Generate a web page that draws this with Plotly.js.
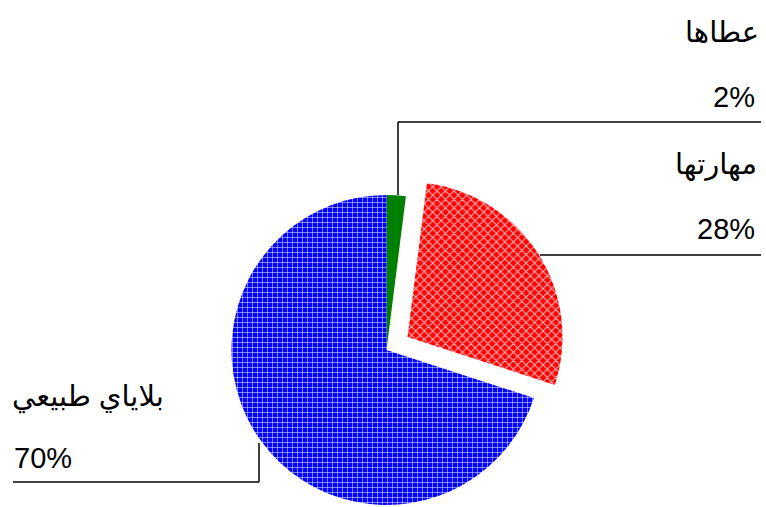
<!DOCTYPE html>
<html>
<head>
<meta charset="utf-8">
<script src="https://cdn.plot.ly/plotly-3.0.1.min.js"></script>
<style>html,body{margin:0;padding:0;background:#fff;}#chart{width:766px;height:507px;}</style>
</head>
<body>
<div id="chart"></div>
<script>
// Data
const labels = ['عطاها', 'مهارتها', 'بلاياي طبيعي'];
const values = [2, 28, 70];
const colors = ['#008000', '#ff0000', '#0000ff'];
const pulledLabel = 'مهارتها';

const W = 766, H = 507;
function dom(cx, cy, r) {
  return {x: [(cx - r) / W, (cx + r) / W], y: [1 - (cy + r) / H, 1 - (cy - r) / H]};
}
const R = 155, CX = 386.5, CY = 350;
const PX = 21, PY = -13;

const baseColors = labels.map((l, i) => l === pulledLabel ? 'rgba(0,0,0,0)' : colors[i]);
const pulledColors = labels.map((l, i) => l === pulledLabel ? colors[i] : 'rgba(0,0,0,0)');
function patterns(forPulled) {
  return labels.map((l, i) => {
    if ((l === pulledLabel) !== forPulled) return '';
    if (i === 1) return 'x';
    if (i === 2) return '+';
    return '';
  });
}
function pat(forPulled, cols) {
  return {
    shape: patterns(forPulled),
    fillmode: 'replace',
    bgcolor: cols,
    fgcolor: labels.map(() => 'rgba(255,255,255,0.75)'),
    size: labels.map((l, i) => i === 1 ? 6 : 5),
    solidity: labels.map((l, i) => i === 1 ? 0.3 : 0.25)
  };
}

const common = {
  type: 'pie', labels: labels, values: values, sort: false, direction: 'clockwise',
  rotation: 0, textinfo: 'none', hoverinfo: 'skip', showlegend: false
};
const t1 = Object.assign({}, common, {
  domain: dom(CX, CY, R),
  marker: {colors: baseColors, line: {width: 0}, pattern: pat(false, baseColors)}
});
const t2 = Object.assign({}, common, {
  domain: dom(CX + PX, CY + PY, R),
  marker: {colors: pulledColors, line: {width: 0}, pattern: pat(true, pulledColors)}
});

const total = values.reduce((a, b) => a + b, 0);
const pct = values.map(v => Math.round(v / total * 100) + '%');
const font = {family: 'Liberation Sans, Arial, DejaVu Sans, sans-serif', size: 29, color: '#000'};
function ann(text, px, py, anchor) {
  return {text: text, x: px / W, y: 1 - py / H, xref: 'paper', yref: 'paper',
    xanchor: anchor, yanchor: 'middle', showarrow: false, font: font};
}
const annotations = [
  ann(labels[0], 761, 32, 'right'), ann(pct[0], 757, 97, 'right'),
  ann(labels[1], 759, 164, 'right'), ann(pct[1], 757, 229, 'right'),
  ann(labels[2], 10, 397, 'left'), ann(pct[2], 12, 458, 'left')
];
function seg(x0, y0, x1, y1) {
  return {type: 'line', xref: 'paper', yref: 'paper', x0: x0 / W, y0: 1 - y0 / H, x1: x1 / W, y1: 1 - y1 / H,
    line: {color: '#000', width: 1.5}};
}
const shapes = [
  seg(398, 195, 398, 122), seg(398, 122, 761, 122),
  seg(540, 255, 761, 255),
  seg(259, 443, 259, 482), seg(259, 482, 13, 482)
];

Plotly.newPlot('chart', [t1, t2], {
  width: W, height: H, margin: {l: 0, r: 0, t: 0, b: 0},
  paper_bgcolor: '#fff', plot_bgcolor: '#fff',
  annotations: annotations, shapes: shapes
}, {displayModeBar: false, staticPlot: true});
</script>
</body>
</html>
